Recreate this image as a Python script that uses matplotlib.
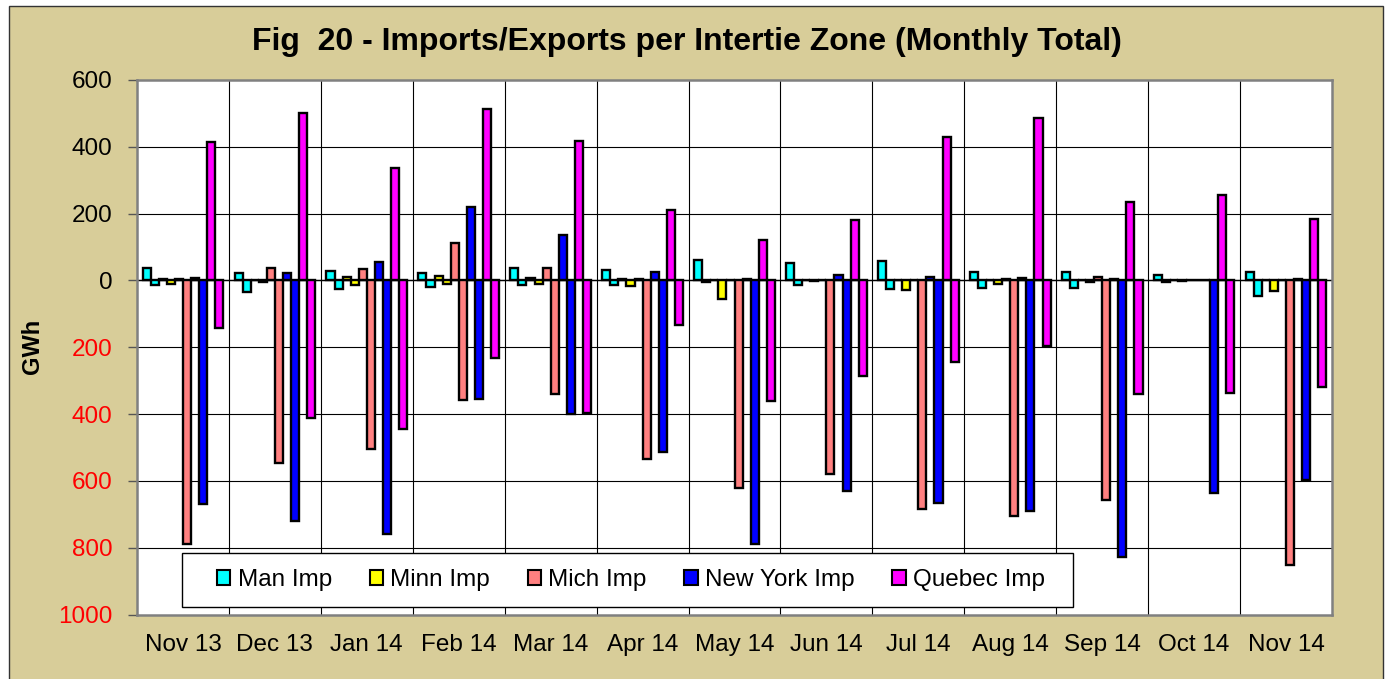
import matplotlib
matplotlib.use("Agg")
import matplotlib.pyplot as plt
from matplotlib.patches import Patch, Rectangle
import numpy as np

months = ["Nov 13", "Dec 13", "Jan 14", "Feb 14", "Mar 14", "Apr 14", "May 14",
          "Jun 14", "Jul 14", "Aug 14", "Sep 14", "Oct 14", "Nov 14"]

man_imp = [38, 21, 27, 22, 36, 31, 62, 51, 57, 26, 24, 17, 26]
man_exp = [-13, -35, -26, -20, -13, -13, -4, -15, -27, -22, -22, -6, -47]
minn_imp = [5, 1, 10, 13, 7, 5, 0, 0, 0, 0, 0, 0, 0]
minn_exp = [-10, -4, -15, -12, -12, -17, -55, -3, -30, -10, -6, -2, -32]
mich_imp = [5, 37, 34, 111, 36, 3, 1, 2, 0, 4, 11, 0, 0]
mich_exp = [-790, -545, -504, -357, -339, -534, -622, -578, -685, -706, -657, 0, -853]
ny_imp = [7, 21, 55, 219, 136, 24, 3, 16, 9, 6, 3, 2, 4]
ny_exp = [-668, -720, -759, -355, -400, -515, -788, -630, -665, -690, -827, -637, -596]
que_imp = [413, 502, 336, 512, 416, 210, 122, 182, 428, 485, 236, 257, 185]
que_exp = [-141, -411, -446, -231, -396, -133, -362, -285, -244, -196, -341, -336, -320]

legend_labels = ["Man Imp", "Minn Imp", "Mich Imp", "New York Imp", "Quebec Imp"]
colors = ["#00FFFF", "#FFFF00", "#FF8080", "#0000FF", "#FF00FF"]
yticks = [600, 400, 200, 0, -200, -400, -600, -800, -1000]

series = [man_imp, man_exp, minn_imp, minn_exp, mich_imp, mich_exp,
          ny_imp, ny_exp, que_imp, que_exp]
series_colors = [c for c in colors for _ in range(2)]

plt.rcParams['font.family'] = ['Liberation Sans', 'DejaVu Sans']

W, H = 1388, 679
fig = plt.figure(figsize=(W / 100, H / 100), dpi=100)
fig.patch.set_facecolor("white")

# tan chart frame
bg = Rectangle((9 / W, -0.01), (1383 - 9) / W, (H - 6) / H + 0.01,
               transform=fig.transFigure, facecolor="#D8CD99",
               edgecolor="#333333", linewidth=1.0, zorder=-10)
fig.patches.append(bg)

ax = fig.add_axes([137 / W, 1 - 614.5 / H, (1332 - 137) / W, (614.5 - 80) / H])
ax.set_facecolor("white")

x = np.arange(len(months))
w = 0.0878
for j, (vals, col) in enumerate(zip(series, series_colors)):
    ax.bar(x + (j - 4.5) * w, vals, width=w, color=col, edgecolor="black",
           linewidth=1.7, zorder=3)

ax.set_xlim(-0.5, len(months) - 0.5)
ax.set_ylim(-1000, 600)

# grid
for yv in yticks[1:-1]:
    ax.axhline(yv, color="black", linewidth=0.8, zorder=1)
for i in range(len(months) - 1):
    ax.axvline(i + 0.5, color="black", linewidth=0.8, zorder=1)
ax.axhline(0, color="black", linewidth=1.0, zorder=2)

ax.set_yticks(yticks)
ax.set_yticklabels([str(abs(v)) for v in yticks], fontsize=17.5)
for lbl, v in zip(ax.get_yticklabels(), yticks):
    lbl.set_color("red" if v < 0 else "black")
ax.tick_params(axis="y", direction="out", length=6.5, width=1, color="#555555", pad=11)

ax.set_xticks(x)
ax.set_xticklabels(months, fontsize=17.5)
ax.tick_params(axis="x", length=0, pad=14)

for s in ax.spines.values():
    s.set_color("#808080")
    s.set_linewidth(1.8)

fig.text(686.5 / W, 1 - 42 / H, "Fig  20 - Imports/Exports per Intertie Zone (Monthly Total)",
         ha="center", va="center", fontsize=23, fontweight="bold")
fig.text(33 / W, 1 - 346 / H, "GWh", rotation=90, ha="center", va="center",
         fontsize=17, fontweight="bold")

# legend box
lb = Rectangle((182 / W, 1 - 607 / H), (1073 - 182) / W, (607 - 553) / H,
               transform=fig.transFigure, facecolor="white", edgecolor="black",
               linewidth=1.0, zorder=4)
fig.patches.append(lb)
handles = [Patch(facecolor=c, edgecolor="black", linewidth=1.5) for c in colors]
leg = fig.legend(handles, legend_labels, loc="center",
                 bbox_to_anchor=(631 / W, 1 - 580 / H), ncol=5, frameon=False,
                 fontsize=17.5, handlelength=0.55, handleheight=0.55,
                 handletextpad=0.3, columnspacing=1.55)
leg.set_zorder(5)

fig.savefig("out.png", dpi=100, facecolor=fig.get_facecolor())
